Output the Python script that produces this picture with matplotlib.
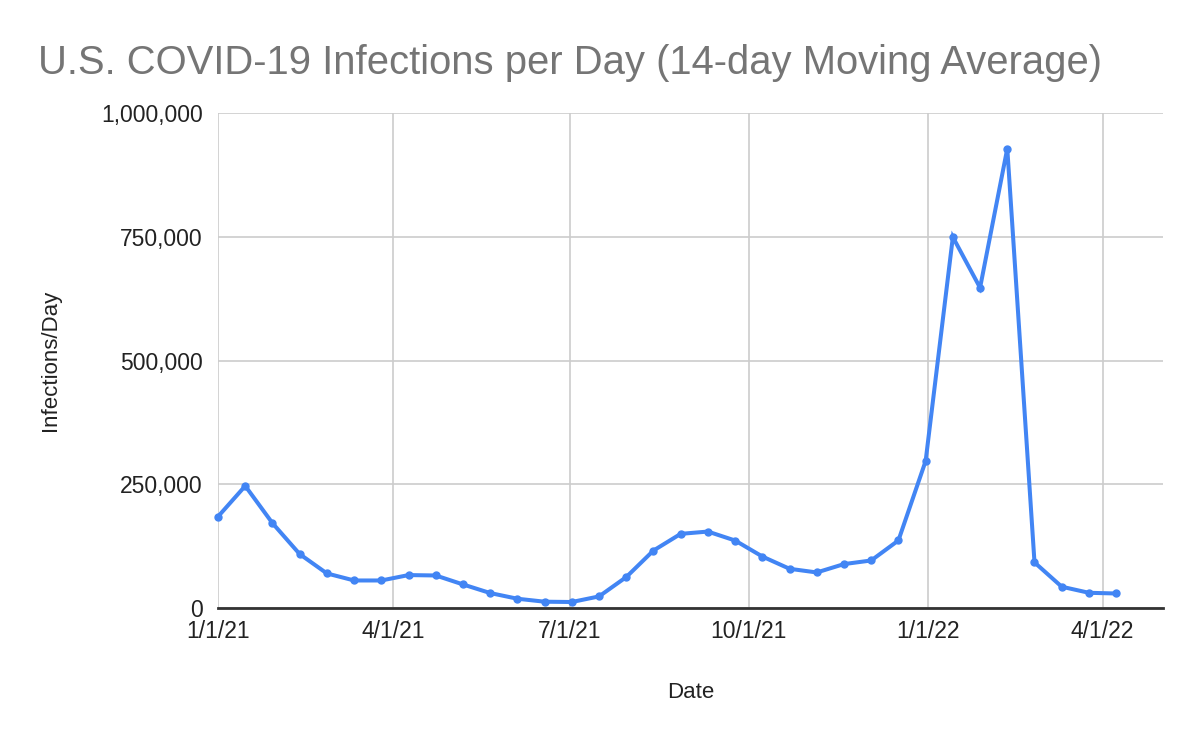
import pandas as pd
import matplotlib
matplotlib.use("Agg")
import matplotlib.pyplot as plt
import matplotlib.ticker as mticker

plt.rcParams['font.family'] = ['Liberation Sans', 'DejaVu Sans']

# data (one point every two weeks)
dates = ["2021-01-01", "2021-01-15", "2021-01-29", "2021-02-12", "2021-02-26",
         "2021-03-12", "2021-03-26", "2021-04-09", "2021-04-23", "2021-05-07",
         "2021-05-21", "2021-06-04", "2021-06-18", "2021-07-02", "2021-07-16",
         "2021-07-30", "2021-08-13", "2021-08-27", "2021-09-10", "2021-09-24",
         "2021-10-08", "2021-10-22", "2021-11-05", "2021-11-19", "2021-12-03",
         "2021-12-17", "2021-12-31", "2022-01-14", "2022-01-28", "2022-02-11",
         "2022-02-25", "2022-03-11", "2022-03-25", "2022-04-08"]
infections = [184700, 246600, 171400, 108900, 69800, 55600, 55600, 66500, 65700,
              47600, 30200, 18700, 12700, 12100, 23400, 62500, 116100, 149800,
              154400, 136300, 104000, 79200, 71800, 88700, 96000, 136500, 296900,
              749400, 647000, 928200, 92100, 43000, 30700, 29300]
tick_dates = ["2021-01-01", "2021-04-01", "2021-07-01", "2021-10-01", "2022-01-01", "2022-04-01"]
tick_labels = ["1/1/21", "4/1/21", "7/1/21", "10/1/21", "1/1/22", "4/1/22"]
y_ticks = [0, 250000, 500000, 750000, 1000000]

x = pd.to_datetime(dates)

fig = plt.figure(figsize=(12, 7.42), dpi=100)
ax = fig.add_axes([0.1817, 0.1806, 0.969 - 0.1817, 0.8477 - 0.1806])

ax.plot(x, infections, color='#4285F4', linewidth=2.9, marker='o', markersize=5,
        solid_joinstyle='miter', clip_on=False, zorder=3)

ax.set_xlim(pd.Timestamp("2021-01-01"), pd.Timestamp("2022-05-02"))
ax.set_ylim(0, 1000000)
ax.set_xticks(pd.to_datetime(tick_dates))
ax.set_xticklabels(tick_labels)
ax.set_yticks(y_ticks)
ax.yaxis.set_major_formatter(mticker.FuncFormatter(lambda v, p: f"{int(v):,}"))

ax.grid(True, color='#cccccc', linewidth=1.2)
ax.set_axisbelow(True)
for s in ['top', 'right', 'left']:
    ax.spines[s].set_visible(False)
ax.spines['bottom'].set_color('#333333')
ax.spines['bottom'].set_linewidth(2)
ax.spines['bottom'].set_zorder(4)
ax.tick_params(axis='both', length=0, labelsize=16.5, colors='#222222')
ax.tick_params(axis='y', pad=11)
ax.tick_params(axis='x', pad=9)

ax.set_xlabel("Date", fontsize=16, color='#222222', labelpad=28)
ax.set_ylabel("Infections/Day", fontsize=16, color='#222222', labelpad=29)

fig.text(0.032, 0.915, "U.S. COVID-19 Infections per Day (14-day Moving Average)",
         fontsize=28.8, color='#757575', va='center', ha='left')

fig.savefig("out.png", dpi=100)
